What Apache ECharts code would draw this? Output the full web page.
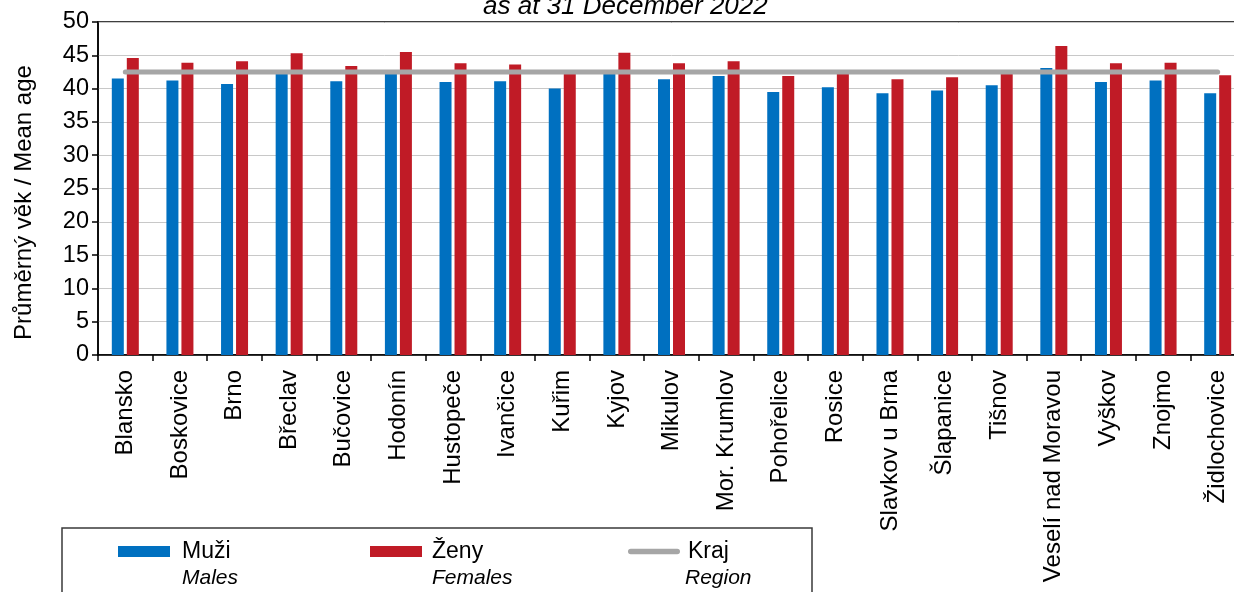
<!DOCTYPE html>
<html>
<head>
<meta charset="utf-8">
<script src="https://cdn.jsdelivr.net/npm/echarts@6/dist/echarts.min.js"></script>
<style>
  html, body { margin: 0; padding: 0; background: #fff; overflow: hidden; }
  #chart { width: 1250px; height: 592px; }
</style>
</head>
<body>
<div id="chart"></div>
<script>
const categories = [
  'Blansko', 'Boskovice', 'Brno', 'Břeclav', 'Bučovice', 'Hodonín', 'Hustopeče',
  'Ivančice', 'Kuřim', 'Kyjov', 'Mikulov', 'Mor. Krumlov', 'Pohořelice', 'Rosice',
  'Slavkov u Brna', 'Šlapanice', 'Tišnov', 'Veselí nad Moravou', 'Vyškov', 'Znojmo',
  'Židlochovice'
]
const males = [
  41.5, 41.2, 40.7, 42.3, 41.1, 42.4, 41.0,
  41.1, 40.0, 42.3, 41.4, 41.9, 39.5, 40.2,
  39.3, 39.7, 40.5, 43.1, 41.0, 41.2,
  39.3
]
const females = [
  44.6, 43.9, 44.1, 45.3, 43.4, 45.5, 43.8,
  43.6, 42.4, 45.4, 43.8, 44.1, 41.9, 42.3,
  41.4, 41.7, 42.3, 46.4, 43.8, 43.9,
  42.0
]
const region = [
  42.5, 42.5, 42.5, 42.5, 42.5, 42.5, 42.5,
  42.5, 42.5, 42.5, 42.5, 42.5, 42.5, 42.5,
  42.5, 42.5, 42.5, 42.5, 42.5, 42.5,
  42.5
]
const yTicks = { min: 0, max: 50, interval: 5 }
const legendLabels = {
  'Muži': 'Males',
  'Ženy': 'Females',
  'Kraj': 'Region'
}

const font = '"Liberation Sans", Arial, sans-serif'
// the plot runs a little past the right edge of the window, so the div is wider
const chart = echarts.init(document.getElementById('chart'))

const option = {
  backgroundColor: '#fff',
  textStyle: { fontFamily: font, color: '#000' },
  title: {
    text: 'as at 31 December 2022',
    left: 478,
    top: -11,
    textStyle: {
      fontFamily: font,
      fontStyle: 'italic',
      fontWeight: 'normal',
      fontSize: 26,
      color: '#000'
    }
  },
  graphic: [
    {
      type: 'rect',
      shape: { x: 62, y: 528, width: 750, height: 90 },
      style: { fill: 'none', stroke: '#3a3a3a', lineWidth: 1.5 },
      silent: true
    }
  ],
  legend: {
    left: 118,
    top: 512,
    padding: 0,
    itemGap: 0,
    itemWidth: 52,
    itemHeight: 11,
    data: [
      { name: 'Muži', icon: 'rect' },
      { name: 'Ženy', icon: 'rect' },
      { name: 'Kraj', icon: 'path://M3,0 L53,0 A3,3 0 0 1 53,6 L3,6 A3,3 0 0 1 3,0 Z' }
    ],
    formatter: (name) => {
      const key = name === 'Kraj' ? 'c' : (name === 'Ženy' ? 'b' : 'a')
      return '{e| }\n{' + key + '|' + name + '}\n{' + key + 'i|' + legendLabels[name] + '}'
    },
    textStyle: {
      fontFamily: font,
      color: '#000',
      rich: {
        e: { height: 27, lineHeight: 27, fontSize: 10 },
        a: { fontSize: 23, lineHeight: 26, width: 188, padding: [0, 0, 0, 7] },
        ai: { fontSize: 21, lineHeight: 26, width: 188, fontStyle: 'italic', padding: [0, 0, 0, 7] },
        b: { fontSize: 23, lineHeight: 26, width: 196, padding: [0, 0, 0, 5] },
        bi: { fontSize: 21, lineHeight: 26, width: 196, fontStyle: 'italic', padding: [0, 0, 0, 5] },
        c: { fontSize: 23, lineHeight: 26, width: 80, padding: [0, 0, 0, 3] },
        ci: { fontSize: 21, lineHeight: 26, width: 80, fontStyle: 'italic', padding: [0, 0, 0, 0] }
      }
    }
  },
  grid: {
    left: 98,
    top: 22,
    width: 1147,
    height: 333,
    show: true,
    borderColor: '#000',
    borderWidth: 1.5,
    containLabel: false
  },
  xAxis: {
    type: 'category',
    data: categories,
    axisLine: { lineStyle: { color: '#000', width: 1.5 } },
    axisTick: { show: true, length: 6, lineStyle: { color: '#000', width: 1.5 } },
    axisLabel: {
      rotate: 90,
      margin: 15,
      interval: 0,
      color: '#000',
      fontFamily: font,
      fontSize: 24
    }
  },
  yAxis: {
    type: 'value',
    min: yTicks.min,
    max: yTicks.max,
    interval: yTicks.interval,
    name: 'Průměrný věk / Mean age',
    nameLocation: 'middle',
    nameGap: 62,
    nameTextStyle: {
      fontFamily: font,
      fontSize: 24,
      color: '#000',
      padding: [0, 28, 0, 0]
    },
    axisLine: { show: true, lineStyle: { color: '#000', width: 1.5 } },
    axisTick: { show: true, length: 6, lineStyle: { color: '#000', width: 1.5 } },
    axisLabel: { margin: 9, color: '#000', fontFamily: font, fontSize: 23.5 },
    splitLine: { lineStyle: { color: '#c8c8c8', width: 1 } }
  },
  series: [
    {
      name: 'Muži',
      type: 'bar',
      barWidth: 12,
      barGap: '25%',
      itemStyle: { color: '#0070c0' },
      data: males
    },
    {
      name: 'Ženy',
      type: 'bar',
      barWidth: 12,
      itemStyle: { color: '#c01b26' },
      data: females
    },
    {
      name: 'Kraj',
      type: 'line',
      symbol: 'none',
      z: 5,
      lineStyle: { color: '#a6a6a6', width: 5, cap: 'round' },
      itemStyle: { color: '#a6a6a6' },
      data: region
    }
  ]
}

chart.setOption(option)
</script>
</body>
</html>
